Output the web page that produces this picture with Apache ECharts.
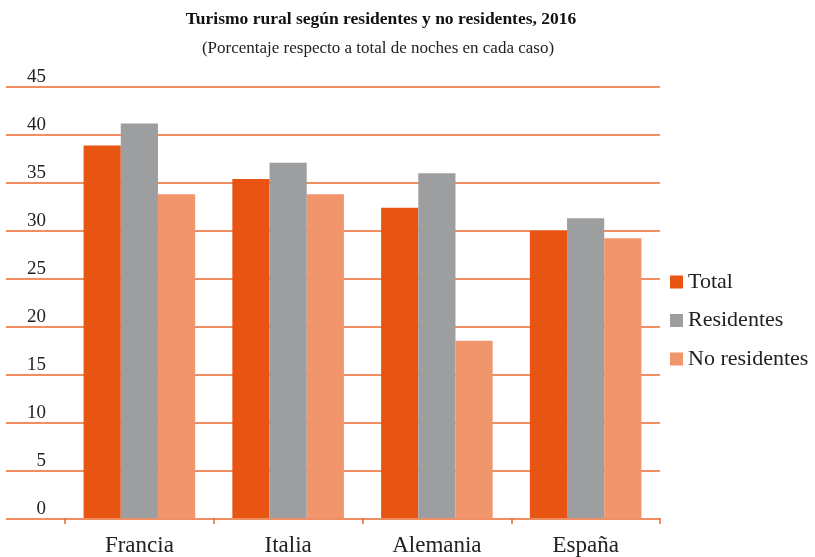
<!DOCTYPE html>
<html>
<head>
<meta charset="utf-8">
<script src="https://cdn.jsdelivr.net/npm/echarts@6/dist/echarts.min.js"></script>
<style>
  html, body { margin: 0; padding: 0; background: #fff; }
  #chart { width: 815px; height: 557px; }
</style>
</head>
<body>
<div id="chart"></div>
<script>
  // datos
  var categories = ['Francia', 'Italia', 'Alemania', 'España'];
  var total = [38.9, 35.4, 32.4, 30.0];
  var residentes = [41.2, 37.1, 36.0, 31.3];
  var noResidentes = [33.8, 33.8, 18.5, 29.2];
  var yTicks = [0, 5, 10, 15, 20, 25, 30, 35, 40, 45];

  var serif = '"Liberation Serif", "DejaVu Serif", serif';
  var orange = '#e8692e';

  var myChart = echarts.init(document.getElementById('chart'));
  myChart.setOption({
      textStyle: {fontFamily: serif},
      title: [
          {
              text: 'Turismo rural según residentes y no residentes, 2016',
              left: 376, top: 5, textAlign: 'center',
              textStyle: {fontFamily: serif, fontSize: 17.5, fontWeight: 'bold', color: '#111'}
          },
          {
              text: '(Porcentaje respecto a total de noches en cada caso)',
              left: 373, top: 35, textAlign: 'center',
              textStyle: {fontFamily: serif, fontSize: 17, fontWeight: 'normal', color: '#222'}
          }
      ],
      legend: {
          orient: 'vertical',
          left: 665, top: 266,
          itemWidth: 13, itemHeight: 13, itemGap: 16.5,
          icon: 'rect',
          textStyle: {fontFamily: serif, fontSize: 22, color: '#222'},
          data: ['Total', 'Residentes', 'No residentes']
      },
      grid: [
          // rejilla con etiquetas del eje y (llega hasta el borde izquierdo)
          {left: 6, right: 155, top: 87, bottom: 38},
          // rejilla de las barras
          {left: 65, right: 155, top: 87, bottom: 38}
      ],
      xAxis: [
          {gridIndex: 0, type: 'value', min: 0, max: 1, show: false},
          {
              gridIndex: 1, type: 'category', data: categories,
              axisLine: {show: false},
              axisTick: {show: true, length: 6, lineStyle: {color: orange, width: 1.5}},
              axisLabel: {fontFamily: serif, fontSize: 23, color: '#222', margin: 16}
          }
      ],
      yAxis: [
          {
              gridIndex: 0, type: 'value', min: yTicks[0], max: yTicks[yTicks.length - 1], interval: 5,
              axisLine: {show: false},
              axisTick: {show: false},
              axisLabel: {
                  inside: true, margin: 40, align: 'right', verticalAlign: 'bottom',
                  padding: [0, 0, 0, 0],
                  fontFamily: serif, fontSize: 19, color: '#222'
              },
              splitLine: {show: true, lineStyle: {color: orange, width: 1.5}}
          },
          {
              gridIndex: 1, type: 'value', min: yTicks[0], max: yTicks[yTicks.length - 1], interval: 5,
              show: false, splitLine: {show: false}
          }
      ],
      series: [
          {
              name: 'Total', type: 'bar', xAxisIndex: 1, yAxisIndex: 1,
              data: total, barGap: '0%', barCategoryGap: '25%',
              itemStyle: {color: '#e85412'}
          },
          {
              name: 'Residentes', type: 'bar', xAxisIndex: 1, yAxisIndex: 1,
              data: residentes, barGap: '0%', barCategoryGap: '25%',
              itemStyle: {color: '#9d9ea0'}
          },
          {
              name: 'No residentes', type: 'bar', xAxisIndex: 1, yAxisIndex: 1,
              data: noResidentes, barGap: '0%', barCategoryGap: '25%',
              itemStyle: {color: '#f0956c'}
          }
      ]
  });
</script>
</body>
</html>
